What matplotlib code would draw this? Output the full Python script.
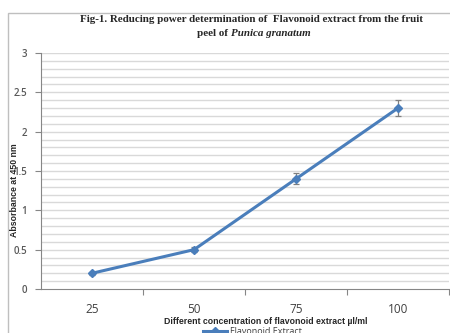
import matplotlib
matplotlib.use("Agg")
import matplotlib.pyplot as plt
from matplotlib.patches import Rectangle
from matplotlib.lines import Line2D
import numpy as np

categories = ["25", "50", "75", "100"]
absorbance = [0.2, 0.5, 1.4, 2.3]
errors = [0.02, 0.03, 0.07, 0.1]
series_name = "Flavonoid Extract"
y_ticks = [0, 0.5, 1, 1.5, 2, 2.5, 3]
y_tick_labels = ["0", "0.5", "1", "1.5", "2", "2.5", "3"]

W, H = 450, 333
fig = plt.figure(figsize=(W / 100, H / 100), dpi=100)
fig.patch.set_facecolor("white")

def fx(px):
    return px / W

def fy(py):
    return 1 - py / H

# outer chart frame
fig.patches.append(Rectangle((fx(8), fy(400)), fx(500), fy(13) - fy(400),
                             transform=fig.transFigure, fill=False,
                             edgecolor="#bfbfbf", linewidth=1.0))

ax = fig.add_axes([fx(41), fy(289), fx(449) - fx(41), fy(53) - fy(289)])
ax.set_facecolor("none")
x = list(range(len(categories)))
blue = "#4a7ebb"
ax.errorbar(x, absorbance, yerr=errors, color=blue, linewidth=2.2,
            marker="D", markersize=4.5, ecolor="#7f7f7f", elinewidth=0.9,
            capsize=2.5, capthick=0.9, zorder=3)

ax.set_xlim(-0.5, len(categories) - 0.5)
ax.set_ylim(0, 3)

# gridlines every 0.1
for v in np.arange(0.1, 3.001, 0.1):
    ax.axhline(v, color="#d9d9d9", linewidth=1.0, zorder=1)

ax.set_yticks(y_ticks)
ax.set_yticklabels(y_tick_labels, fontsize=7, color="#595959",
                   fontfamily="Open Sans", fontweight="semibold")
ax.tick_params(axis="y", length=4, color="#868686", width=0.8, pad=6)

ax.set_xticks([i + 0.5 for i in range(len(categories))])
ax.set_xticklabels([])
ax.tick_params(axis="x", length=4, color="#868686", width=0.8)
for i, c in enumerate(categories):
    ax.text(i, -0.262, c, ha="center", va="center", fontsize=8.5,
            color="#404040", fontfamily="Open Sans",
            transform=ax.transData)

for s in ["top", "right"]:
    ax.spines[s].set_visible(False)
ax.spines["left"].set_color("#868686")
ax.spines["bottom"].set_color("#868686")
ax.spines["left"].set_linewidth(0.8)
ax.spines["bottom"].set_linewidth(0.8)

# y label
fig.text(fx(15), fy(190), "Absorbance at 450 nm", rotation=90, ha="center",
         va="center", fontsize=6.3, fontweight="bold", color="#262626",
         fontfamily="Liberation Sans")

# x label
fig.text(fx(266), fy(321), "Different concentration of flavonoid extract \u00b5l/ml",
         ha="center", va="center", fontsize=6.3, fontweight="bold",
         color="#262626", fontfamily="Liberation Sans")

# title
fig.text(fx(251), fy(19), "Fig-1. Reducing power determination of  Flavonoid extract from the fruit",
         ha="center", va="center", fontsize=7.9, fontweight="bold",
         color="#262626", fontfamily="Liberation Serif")
fig.text(fx(231), fy(33), "peel of ", ha="right", va="center", fontsize=7.9,
         fontweight="bold", color="#262626", fontfamily="Liberation Serif")
fig.text(fx(231), fy(33), "Punica granatum", ha="left", va="center",
         fontsize=7.9, fontweight="bold", fontstyle="italic", color="#262626",
         fontfamily="Liberation Serif")

# legend (partly cut off at bottom)
fig.lines.append(Line2D([fx(203), fx(227)], [fy(331), fy(331)],
                        transform=fig.transFigure, color=blue, linewidth=2.2))
fig.lines.append(Line2D([fx(215)], [fy(331)], transform=fig.transFigure,
                        color=blue, marker="D", markersize=4.5))
fig.text(fx(230), fy(331.5), series_name, ha="left", va="center", fontsize=6.5,
         color="#404040", fontfamily="Open Sans")

fig.savefig("out.png", dpi=100)
